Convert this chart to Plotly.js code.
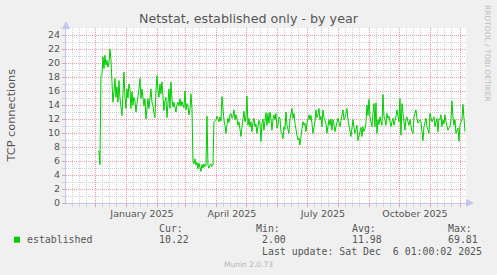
<!DOCTYPE html>
<html><head><meta charset="utf-8">
<script src="https://cdn.plot.ly/plotly-3.0.1.min.js"></script>
<style>html,body{margin:0;padding:0;background:#F0F0F0;overflow:hidden;} #chart{width:497px;height:275px;}</style>
</head><body><div id="chart"></div>
<script>
// ---- data (daily averages) ----
const firstDay = [2024, 11, 3]; // 2024-12-03 (month is 0-based)
const established = [
  7.3, 7.4, 5.5, 18.2, 18.5, 20.9, 19.2, 21.1, 19.7, 20.4,
  19.4, 20.0, 22.0, 20.5, 17.3, 14.4, 15.9, 17.8, 15.1, 16.6,
  14.4, 17.5, 15.0, 13.2, 12.5, 15.6, 18.7, 15.1, 13.5, 16.3,
  15.0, 17.0, 16.3, 13.5, 15.9, 14.0, 15.1, 14.6, 13.0, 14.2,
  15.1, 16.3, 17.8, 14.9, 16.3, 14.4, 13.9, 14.9, 12.0, 13.4,
  14.9, 13.5, 15.0, 16.3, 14.4, 13.9, 12.8, 12.2, 16.0, 18.2,
  16.1, 15.1, 17.0, 15.6, 17.3, 14.2, 13.2, 14.6, 15.1, 12.2,
  14.4, 16.3, 13.5, 17.3, 14.9, 13.7, 14.4, 13.6, 13.0, 14.0,
  14.4, 13.9, 14.9, 13.8, 14.5, 14.0, 13.6, 16.0, 13.3, 14.2,
  13.8, 12.6, 13.4, 15.6, 13.5, 6.1, 5.6, 6.3, 5.4, 5.8,
  4.9, 5.7, 5.2, 4.5, 5.5, 5.0, 5.6, 5.2, 5.4, 12.4,
  5.4, 5.0, 5.4, 5.6, 5.2, 5.4, 11.6, 11.8, 11.9, 12.4,
  12.1, 11.6, 12.3, 11.7, 15.2, 12.8, 11.9, 11.1, 9.95, 11.2,
  12.1, 11.5, 12.6, 12.8, 12.1, 12.4, 13.3, 11.9, 12.6, 12.0,
  11.1, 11.6, 10.4, 9.5, 10.8, 11.9, 13.1, 11.6, 12.3, 15.3,
  11.1, 12.1, 10.9, 11.6, 10.2, 11.5, 12.1, 10.9, 11.3, 9.95,
  10.7, 11.8, 11.4, 8.8, 11.4, 12.0, 10.4, 12.1, 12.9, 11.1,
  12.8, 11.4, 13.0, 12.1, 10.4, 11.9, 12.6, 11.9, 12.8, 10.7,
  11.1, 12.3, 12.1, 10.2, 9.9, 9.2, 10.9, 10.5, 13.0, 11.1,
  10.4, 9.95, 12.0, 12.6, 13.5, 12.1, 12.8, 11.4, 10.2, 9.7,
  9.0, 9.3, 8.3, 9.95, 10.6, 11.6, 11.1, 11.4, 10.2, 11.4,
  12.0, 12.6, 11.9, 12.5, 11.4, 9.95, 10.8, 11.6, 13.3, 12.2,
  12.6, 13.5, 11.9, 12.4, 10.9, 13.3, 12.2, 11.9, 11.4, 9.95,
  10.8, 11.9, 11.1, 12.0, 10.4, 11.9, 11.2, 10.2, 10.9, 11.4,
  12.1, 11.5, 10.9, 11.8, 12.6, 13.3, 11.9, 12.2, 12.8, 13.5,
  11.9, 10.9, 10.2, 9.5, 10.7, 11.9, 10.8, 9.95, 10.5, 11.1,
  8.9, 9.6, 10.2, 10.8, 9.5, 10.9, 10.2, 10.6, 11.4, 14.0,
  12.5, 14.8, 12.3, 11.6, 10.9, 12.8, 14.2, 10.9, 14.3, 9.95,
  11.9, 11.2, 12.3, 11.6, 11.1, 15.5, 12.4, 11.9, 11.1, 12.8,
  12.1, 12.4, 11.4, 10.9, 11.6, 12.1, 11.1, 11.6, 12.3, 13.3,
  12.0, 11.6, 14.9, 9.7, 14.2, 12.8, 11.9, 10.4, 12.1, 12.3,
  11.6, 11.1, 11.9, 11.0, 10.2, 9.95, 12.3, 12.8, 13.3, 12.1,
  11.4, 11.7, 11.9, 11.6, 10.4, 8.9, 10.9, 11.5, 12.1, 10.9,
  10.2, 9.95, 12.8, 11.9, 11.6, 11.9, 12.3, 10.9, 11.5, 12.1,
  10.2, 11.9, 12.0, 12.6, 10.9, 11.9, 11.3, 12.6, 11.6, 11.0,
  10.4, 10.7, 10.9, 11.9, 14.6, 12.3, 11.1, 11.9, 9.95, 10.4,
  10.7, 8.8, 11.1, 11.5, 11.9, 14.1, 11.6, 10.2
];
const xRange = ['2024-11-01 01:00', '2025-12-06 01:00'];
const monthStarts = ['2024-12-01','2025-01-01','2025-02-01','2025-03-01','2025-04-01','2025-05-01',
  '2025-06-01','2025-07-01','2025-08-01','2025-09-01','2025-10-01','2025-11-01','2025-12-01'];
const minorMonths = ['2024-11','2024-12','2025-01','2025-02','2025-03','2025-04','2025-05',
  '2025-06','2025-07','2025-08','2025-09','2025-10','2025-11'];
const minorDays = ['08','15','22'];
const labelDates = ['2025-01-16','2025-04-16','2025-07-16','2025-10-16'];
const labelText = ['January 2025','April 2025','July 2025','October 2025'];
const yTicks = [0,2,4,6,8,10,12,14,16,18,20,22,24];
const seriesName = 'established';
const statsHead = ['Cur:','Min:','Avg:','Max:'];
const statsVal = ['10.22','2.00','11.98','69.81'];
const lastUpdate = 'Last update: Sat Dec\u00a0 6 01:00:02 2025';

// ---- build ----
const dates = established.map((_, i) => {
  const d = new Date(Date.UTC(firstDay[0], firstDay[1], firstDay[2] + i));
  return d.toISOString().slice(0, 10);
});
const weekLines = [];
minorMonths.forEach(m => minorDays.forEach(d => weekLines.push(m + '-' + d)));

const L = 66, T = 28, W = 400, H = 175;
const px = x => (x - L) / W;
const py = y => (T + H - y) / H;

const MAJ = '#E6A0A0', MIN = '#D2D2D2', AX = '#C4C4F0', TXT = '#555555';
const mono = 'DejaVu Sans Mono';

const ann = [];
function txt(text, x, y, opts) {
  ann.push(Object.assign({text: text, xref: 'paper', yref: 'paper', x: px(x), y: py(y),
    showarrow: false, xanchor: 'left', yanchor: 'middle',
    font: {family: mono, size: 9.9, color: TXT}}, opts || {}));
}
const headX = [157, 253.7, 350.3, 445.7];
const valX = [157, 260, 350.3, 445.7];
statsHead.forEach((s, i) => txt(s, headX[i], 228.3));
statsVal.forEach((s, i) => txt(s, valX[i], 239.5));
txt(seriesName, 25, 239.5);
txt(lastUpdate, 260, 251);
txt('Munin 2.0.73', 248, 264.5, {xanchor: 'center', font: {family: 'DejaVu Sans', size: 7.5, color: '#B4B4B4'}});
txt('RRDTOOL / TOBI OETIKER', 487.5, 53.5, {xanchor: 'center', textangle: 90, font: {family: 'DejaVu Sans', size: 7.5, color: '#BBBBBB'}});
txt('TCP connections', 11, 115.5, {xanchor: 'center', textangle: -90, font: {family: 'DejaVu Sans', size: 11.3, color: TXT}});
// axis arrows
ann.push({xref: 'paper', yref: 'paper', x: px(474), y: py(203), ax: -9, ay: 0, text: '', showarrow: true,
  arrowhead: 2, arrowsize: 1.6, arrowwidth: 1, arrowcolor: AX});
ann.push({xref: 'paper', yref: 'paper', x: px(66), y: py(21), ax: 0, ay: 9, text: '', showarrow: true,
  arrowhead: 2, arrowsize: 1.6, arrowwidth: 1, arrowcolor: AX});

const shapes = [{type: 'rect', xref: 'paper', yref: 'paper', x0: px(14), x1: px(20), y0: py(242.7), y1: py(236.7),
  fillcolor: '#00CC00', line: {width: 0}}];

const trace = {x: dates, y: established, type: 'scatter', mode: 'lines', name: seriesName,
  line: {color: '#00CC00', width: 1}, hoverinfo: 'skip', xaxis: 'x', yaxis: 'y'};
const dummy = {x: labelDates, y: labelDates.map(() => null), type: 'scatter', mode: 'lines',
  xaxis: 'x2', yaxis: 'y', showlegend: false, hoverinfo: 'skip'};

const layout = {
  width: 497, height: 275,
  paper_bgcolor: '#F0F0F0', plot_bgcolor: '#FFFFFF',
  margin: {l: L, r: 497 - L - W, t: T, b: 275 - T - H, pad: 0},
  showlegend: false,
  font: {family: 'DejaVu Sans', color: TXT},
  title: {text: 'Netstat, established only - by year', x: 0.5, xanchor: 'center', y: 1 - 19 / 275, yanchor: 'middle',
    font: {family: 'DejaVu Sans', size: 12.7, color: TXT}},
  xaxis: {type: 'date', range: xRange, tickmode: 'array', tickvals: monthStarts, showticklabels: false,
    showgrid: true, gridcolor: MAJ, griddash: '1px,1px', gridwidth: 1,
    ticks: 'outside', ticklen: 3, tickcolor: MAJ, tickwidth: 1,
    showline: true, linecolor: AX, linewidth: 1, zeroline: false, fixedrange: true,
    minor: {tickmode: 'array', tickvals: weekLines, showgrid: true, gridcolor: MIN, griddash: '1px,1px', gridwidth: 1,
      ticks: 'outside', ticklen: 3, tickcolor: MIN}},
  xaxis2: {type: 'date', overlaying: 'x', anchor: 'y', side: 'bottom', range: xRange,
    tickmode: 'array', tickvals: labelDates, ticktext: labelText, showgrid: false, showline: false, zeroline: false,
    ticks: 'outside', ticklen: 2, tickcolor: 'rgba(0,0,0,0)',
    tickfont: {family: 'DejaVu Sans', size: 9.5, color: TXT}},
  yaxis: {range: [0, 25], tickmode: 'array', tickvals: yTicks, showgrid: true, gridcolor: MAJ, griddash: '1px,1px',
    ticks: 'outside', ticklen: 3, tickcolor: MAJ, showline: true, linecolor: AX, zeroline: false,
    tickfont: {family: 'DejaVu Sans', size: 9.5, color: TXT}, fixedrange: true,
    minor: {tickmode: 'linear', tick0: 0, dtick: 1, showgrid: true, gridcolor: MIN, griddash: '1px,1px',
      ticks: 'outside', ticklen: 3, tickcolor: MIN}},
  annotations: ann,
  shapes: shapes
};
Plotly.newPlot('chart', [trace, dummy], layout, {staticPlot: true, displayModeBar: false});
</script></body></html>
